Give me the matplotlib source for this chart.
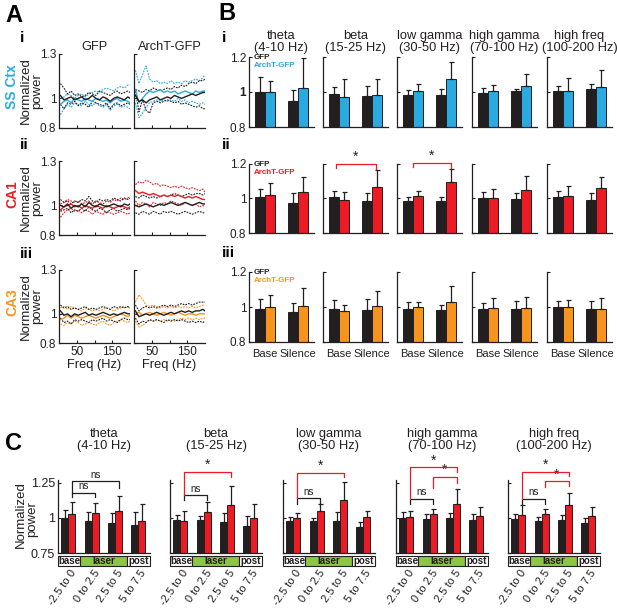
import matplotlib
matplotlib.use('Agg')
import matplotlib.pyplot as plt
import matplotlib.transforms as mtransforms
from matplotlib.patches import Rectangle
import numpy as np

plt.rcParams['font.family'] = ['Liberation Sans', 'DejaVu Sans']

# ---------------- DATA ----------------
# Panel A: normalized power spectra (mean = solid, +/- SEM = dotted)
freq = [4, 14, 24, 34, 44, 54, 64, 74, 84, 94, 104, 114, 124, 134, 144, 154, 164, 174, 184, 194, 200]

# SS Ctx, GFP
A_ss_gfp_k_mid = [1.02, 0.99, 1.00, 1.01, 0.99, 1.00, 1.01, 0.99, 1.00, 1.02, 1.00, 0.99, 1.01, 1.00, 0.98, 1.00, 1.01, 1.00, 0.99, 1.01, 1.00]
A_ss_gfp_k_hi = [1.10, 1.07, 1.03, 1.05, 1.02, 1.03, 1.01, 1.02, 1.04, 1.03, 1.02, 1.05, 1.04, 1.03, 1.02, 1.04, 1.05, 1.03, 1.04, 1.05, 1.04]
A_ss_gfp_k_lo = [0.96, 0.93, 0.97, 0.96, 0.98, 0.95, 0.97, 0.96, 0.94, 0.98, 0.97, 0.96, 0.95, 0.97, 0.93, 0.96, 0.97, 0.95, 0.96, 0.97, 0.96]
A_ss_gfp_c_mid = [0.96, 0.98, 0.99, 0.97, 1.00, 0.99, 0.98, 1.00, 0.99, 0.98, 1.00, 0.99, 0.98, 0.99, 0.97, 0.99, 1.00, 0.98, 0.99, 0.98, 0.97]
A_ss_gfp_c_hi = [1.00, 1.01, 1.03, 1.02, 1.00, 1.02, 1.03, 1.01, 1.03, 1.04, 1.05, 1.04, 1.06, 1.07, 1.06, 1.05, 1.07, 1.08, 1.07, 1.09, 1.09]
A_ss_gfp_c_lo = [0.89, 0.93, 0.96, 0.94, 0.97, 0.96, 0.95, 0.98, 0.96, 0.95, 0.97, 0.95, 0.94, 0.96, 0.92, 0.95, 0.96, 0.94, 0.95, 0.94, 0.93]
# SS Ctx, ArchT-GFP
A_ss_arch_k_mid = [1.02, 0.98, 0.99, 0.97, 0.99, 1.00, 1.01, 0.99, 1.00, 1.01, 1.00, 1.02, 1.01, 1.00, 1.01, 1.02, 1.03, 1.02, 1.03, 1.04, 1.04]
A_ss_arch_k_hi = [1.06, 1.05, 1.04, 1.06, 1.05, 1.07, 1.06, 1.05, 1.06, 1.07, 1.06, 1.08, 1.07, 1.09, 1.08, 1.10, 1.11, 1.10, 1.12, 1.12, 1.13]
A_ss_arch_k_lo = [1.05, 0.91, 0.99, 0.92, 0.90, 0.97, 0.98, 0.97, 0.98, 0.99, 0.98, 0.97, 0.98, 0.96, 0.97, 0.96, 0.95, 0.94, 0.95, 0.93, 0.93]
A_ss_arch_c_mid = [1.06, 0.97, 1.00, 1.03, 1.05, 1.04, 1.05, 1.06, 1.04, 1.05, 1.04, 1.05, 1.03, 1.04, 1.05, 1.04, 1.03, 1.05, 1.04, 1.05, 1.05]
A_ss_arch_c_hi = [1.19, 1.10, 1.16, 1.22, 1.13, 1.11, 1.12, 1.10, 1.11, 1.10, 1.12, 1.10, 1.11, 1.10, 1.12, 1.11, 1.12, 1.13, 1.12, 1.14, 1.16]
A_ss_arch_c_lo = [0.97, 0.87, 0.90, 0.94, 0.97, 0.98, 0.99, 0.98, 0.99, 0.98, 0.99, 0.98, 1.00, 0.98, 0.99, 0.97, 0.98, 0.97, 0.96, 0.97, 0.96]

# CA1, GFP
A_ca1_gfp_k_mid = [1.00, 0.99, 1.01, 0.98, 1.00, 0.99, 1.01, 0.99, 1.02, 1.00, 0.99, 1.01, 1.00, 0.99, 1.00, 1.01, 1.00, 0.99, 1.01, 1.00, 1.01]
A_ca1_gfp_k_hi = [1.04, 1.02, 1.03, 1.01, 1.03, 1.02, 1.04, 1.03, 1.06, 1.03, 1.02, 1.04, 1.03, 1.04, 1.03, 1.05, 1.04, 1.03, 1.05, 1.04, 1.05]
A_ca1_gfp_k_lo = [0.96, 0.97, 0.98, 0.95, 0.97, 0.96, 0.98, 0.96, 0.99, 0.97, 0.96, 0.98, 0.97, 0.95, 0.97, 0.98, 0.96, 0.97, 0.98, 0.97, 0.98]
A_ca1_gfp_c_mid = [0.97, 0.99, 1.00, 1.01, 0.99, 1.00, 0.98, 1.00, 0.99, 0.98, 1.00, 0.99, 0.98, 1.00, 0.99, 0.98, 0.99, 1.00, 0.99, 0.98, 0.99]
A_ca1_gfp_c_hi = [1.01, 1.02, 1.04, 1.03, 1.02, 1.03, 1.01, 1.02, 1.03, 1.01, 1.03, 1.02, 1.01, 1.03, 1.02, 1.04, 1.03, 1.05, 1.04, 1.05, 1.06]
A_ca1_gfp_c_lo = [0.92, 0.95, 0.97, 0.98, 0.96, 0.97, 0.95, 0.97, 0.96, 0.94, 0.96, 0.95, 0.94, 0.96, 0.95, 0.94, 0.95, 0.96, 0.95, 0.94, 0.95]
# CA1, ArchT-GFP
A_ca1_arch_k_mid = [1.00, 0.99, 1.00, 1.01, 1.00, 0.99, 1.00, 1.01, 1.00, 1.01, 1.02, 1.01, 1.00, 1.01, 1.02, 1.01, 1.00, 1.01, 1.02, 1.01, 1.01]
A_ca1_arch_k_hi = [1.06, 1.05, 1.07, 1.06, 1.05, 1.06, 1.05, 1.06, 1.07, 1.06, 1.07, 1.08, 1.07, 1.06, 1.07, 1.08, 1.07, 1.08, 1.08, 1.07, 1.08]
A_ca1_arch_k_lo = [0.95, 0.94, 0.96, 0.95, 0.94, 0.96, 0.95, 0.94, 0.96, 0.95, 0.96, 0.95, 0.94, 0.95, 0.96, 0.95, 0.94, 0.95, 0.96, 0.95, 0.95]
A_ca1_arch_c_mid = [1.10, 1.08, 1.09, 1.08, 1.07, 1.08, 1.07, 1.06, 1.07, 1.06, 1.07, 1.06, 1.07, 1.06, 1.05, 1.06, 1.05, 1.06, 1.05, 1.04, 1.04]
A_ca1_arch_c_hi = [1.14, 1.16, 1.15, 1.17, 1.16, 1.14, 1.15, 1.13, 1.14, 1.13, 1.12, 1.13, 1.12, 1.13, 1.12, 1.11, 1.12, 1.11, 1.10, 1.11, 1.09]
A_ca1_arch_c_lo = [1.03, 1.00, 1.02, 1.01, 0.99, 1.02, 1.01, 1.00, 1.02, 1.01, 1.03, 1.02, 1.01, 1.00, 1.02, 1.01, 1.00, 1.01, 0.99, 1.00, 0.99]

# CA3, GFP
A_ca3_gfp_k_mid = [1.02, 0.99, 1.00, 0.98, 1.00, 0.99, 1.00, 1.01, 0.99, 1.00, 0.99, 1.00, 1.01, 1.00, 0.99, 1.00, 0.99, 1.00, 1.01, 1.00, 1.00]
A_ca3_gfp_k_hi = [1.06, 1.04, 1.05, 1.03, 1.04, 1.03, 1.04, 1.05, 1.03, 1.04, 1.03, 1.04, 1.05, 1.04, 1.03, 1.05, 1.04, 1.05, 1.04, 1.05, 1.04]
A_ca3_gfp_k_lo = [0.97, 0.94, 0.95, 0.93, 0.96, 0.95, 0.96, 0.95, 0.94, 0.96, 0.95, 0.96, 0.97, 0.95, 0.96, 0.95, 0.94, 0.96, 0.97, 0.96, 0.96]
A_ca3_gfp_c_mid = [0.96, 0.97, 0.99, 0.97, 0.99, 0.98, 0.97, 0.98, 0.99, 0.98, 0.97, 0.98, 0.99, 0.98, 0.97, 0.98, 0.99, 1.00, 0.99, 0.98, 0.99]
A_ca3_gfp_c_hi = [1.04, 1.05, 1.03, 1.05, 1.04, 1.03, 1.02, 1.04, 1.03, 1.02, 1.03, 1.02, 1.03, 1.04, 1.03, 1.02, 1.03, 1.04, 1.05, 1.04, 1.05]
A_ca3_gfp_c_lo = [0.93, 0.92, 0.94, 0.93, 0.95, 0.94, 0.92, 0.93, 0.94, 0.93, 0.92, 0.94, 0.95, 0.93, 0.92, 0.94, 0.95, 0.96, 0.95, 0.94, 0.95]
# CA3, ArchT-GFP
A_ca3_arch_k_mid = [1.02, 0.98, 0.99, 1.00, 0.99, 1.00, 1.01, 1.00, 0.99, 1.00, 1.01, 1.00, 1.01, 1.02, 1.01, 1.02, 1.01, 1.02, 1.02, 1.03, 1.02]
A_ca3_arch_k_hi = [1.06, 1.02, 1.04, 1.05, 1.04, 1.05, 1.04, 1.05, 1.06, 1.05, 1.06, 1.05, 1.06, 1.07, 1.06, 1.07, 1.06, 1.07, 1.08, 1.08, 1.08]
A_ca3_arch_k_lo = [0.97, 0.93, 0.95, 0.94, 0.96, 0.95, 0.96, 0.95, 0.94, 0.96, 0.95, 0.96, 0.95, 0.96, 0.95, 0.94, 0.95, 0.94, 0.95, 0.94, 0.95]
A_ca3_arch_c_mid = [1.00, 1.01, 0.99, 1.00, 1.01, 1.00, 0.99, 1.00, 1.01, 1.00, 0.99, 1.00, 1.01, 1.00, 0.99, 1.00, 1.00, 0.99, 1.00, 1.00, 1.00]
A_ca3_arch_c_hi = [1.08, 1.13, 1.10, 1.06, 1.05, 1.06, 1.05, 1.04, 1.05, 1.04, 1.05, 1.04, 1.05, 1.04, 1.05, 1.04, 1.05, 1.04, 1.05, 1.06, 1.06]
A_ca3_arch_c_lo = [0.95, 0.91, 0.92, 0.94, 0.96, 0.95, 0.96, 0.95, 0.96, 0.95, 0.96, 0.95, 0.96, 0.97, 0.96, 0.97, 0.96, 0.97, 0.96, 0.97, 0.97]

# Panel B: band power, Base vs Silence (bar value, errorbar top)
bands_B = ['theta\n(4-10 Hz)', 'beta\n(15-25 Hz)', 'low gamma\n(30-50 Hz)', 'high gamma\n(70-100 Hz)', 'high freq\n(100-200 Hz)']
B_cond_labels = ['Base', 'Silence']

B_ss_gfp_base = [1.000, 0.987, 0.981, 0.994, 1.008]
B_ss_gfp_base_top = [1.085, 1.030, 1.010, 1.020, 1.036]
B_ss_arch_base = [1.000, 0.970, 1.008, 1.004, 1.008]
B_ss_arch_base_top = [1.060, 1.072, 1.047, 1.040, 1.080]
B_ss_gfp_sil = [0.947, 0.979, 0.983, 1.004, 1.017]
B_ss_gfp_sil_top = [1.010, 1.034, 1.017, 1.015, 1.047]
B_ss_arch_sil = [1.023, 0.981, 1.074, 1.032, 1.028]
B_ss_arch_sil_top = [1.196, 1.074, 1.174, 1.104, 1.126]

B_ca1_gfp_base = [1.006, 1.010, 0.984, 1.004, 1.010]
B_ca1_gfp_base_top = [1.053, 1.041, 1.006, 1.035, 1.043]
B_ca1_arch_base = [1.018, 0.990, 1.014, 1.002, 1.014]
B_ca1_arch_base_top = [1.088, 1.039, 1.041, 1.055, 1.075]
B_ca1_gfp_sil = [0.975, 0.988, 0.986, 0.996, 0.992]
B_ca1_gfp_sil_top = [1.033, 1.031, 1.010, 1.031, 1.031]
B_ca1_arch_sil = [1.039, 1.067, 1.098, 1.049, 1.061]
B_ca1_arch_sil_top = [1.127, 1.163, 1.173, 1.129, 1.122]

B_ca3_gfp_base = [0.990, 0.988, 0.990, 0.990, 1.000]
B_ca3_gfp_base_top = [1.048, 1.040, 1.030, 1.022, 1.032]
B_ca3_arch_base = [1.000, 0.978, 1.002, 0.994, 1.000]
B_ca3_arch_base_top = [1.070, 1.014, 1.030, 1.050, 1.040]
B_ca3_gfp_sil = [0.970, 0.982, 0.984, 0.988, 0.990]
B_ca3_gfp_sil_top = [1.024, 1.044, 1.012, 1.034, 1.032]
B_ca3_arch_sil = [1.006, 1.008, 1.030, 0.994, 0.990]
B_ca3_arch_sil_top = [1.106, 1.094, 1.118, 1.060, 1.052]

# Panel C: CA1 band power over time epochs (GFP black, ArchT red)
epochs = ['-2.5 to 0', '0 to 2.5', '2.5 to 5', '5 to 7.5']
C_gfp = [[0.998, 0.980, 0.963, 0.949],
         [0.985, 0.985, 0.973, 0.944],
         [0.978, 0.980, 0.976, 0.935],
         [1.000, 0.993, 0.998, 0.988],
         [0.995, 0.978, 0.983, 0.966]]
C_gfp_top = [[1.054, 1.040, 1.032, 1.040],
             [1.020, 1.012, 1.037, 1.012],
             [1.010, 1.002, 1.043, 0.971],
             [1.039, 1.027, 1.036, 1.027],
             [1.031, 1.007, 1.022, 0.998]]
C_arch = [[1.027, 1.034, 1.046, 0.980],
          [0.980, 1.041, 1.090, 1.000],
          [0.998, 1.050, 1.128, 1.007],
          [1.007, 1.031, 1.099, 1.014],
          [1.024, 1.029, 1.094, 1.012]]
C_arch_top = [[1.110, 1.107, 1.156, 1.102],
              [1.046, 1.110, 1.224, 1.102],
              [1.034, 1.100, 1.256, 1.050],
              [1.050, 1.063, 1.205, 1.080],
              [1.089, 1.065, 1.179, 1.075]]
# significance brackets: (group a, group b, label)
C_sig = [[(1, 2, 'ns'), (1, 3, 'ns')],
         [(1, 2, 'ns'), (1, 3, '*')],
         [(1, 2, 'ns'), (1, 3, '*')],
         [(1, 2, 'ns'), (1, 3, '*'), (2, 3, '*')],
         [(1, 2, 'ns'), (1, 3, '*'), (2, 3, '*')]]

# ---------------- STYLE / LAYOUT ----------------
K = '#231f20'
CYAN = '#29abe2'
RED = '#ed1c24'
ORANGE = '#f7941d'
GREEN = '#8dc63f'

W, H = 617, 609
fig = plt.figure(figsize=(W / 100, H / 100), dpi=100)


def add_ax(l, t, r, b):
    return fig.add_axes([l / W, 1 - b / H, (r - l) / W, (b - t) / H])


def ftext(x, y, s, **kw):
    fig.text(x / W, 1 - y / H, s, **kw)


def style_ax(ax):
    for s in ['top', 'right']:
        ax.spines[s].set_visible(False)
    for s in ['left', 'bottom']:
        ax.spines[s].set_linewidth(0.9)
        ax.spines[s].set_color(K)
    ax.tick_params(direction='in', length=2.5, width=0.8, labelsize=8, pad=2, colors=K)


# ---------------- PANEL A ----------------
ftext(5, 15, 'A', fontsize=17, fontweight='bold', va='center')
A_rows = [
    ('i', 'SS Ctx', CYAN, 54, 128,
     [A_ss_gfp_k_mid, A_ss_gfp_k_hi, A_ss_gfp_k_lo, A_ss_gfp_c_mid, A_ss_gfp_c_hi, A_ss_gfp_c_lo],
     [A_ss_arch_k_mid, A_ss_arch_k_hi, A_ss_arch_k_lo, A_ss_arch_c_mid, A_ss_arch_c_hi, A_ss_arch_c_lo]),
    ('ii', 'CA1', RED, 161, 235,
     [A_ca1_gfp_k_mid, A_ca1_gfp_k_hi, A_ca1_gfp_k_lo, A_ca1_gfp_c_mid, A_ca1_gfp_c_hi, A_ca1_gfp_c_lo],
     [A_ca1_arch_k_mid, A_ca1_arch_k_hi, A_ca1_arch_k_lo, A_ca1_arch_c_mid, A_ca1_arch_c_hi, A_ca1_arch_c_lo]),
    ('iii', 'CA3', ORANGE, 270, 343,
     [A_ca3_gfp_k_mid, A_ca3_gfp_k_hi, A_ca3_gfp_k_lo, A_ca3_gfp_c_mid, A_ca3_gfp_c_hi, A_ca3_gfp_c_lo],
     [A_ca3_arch_k_mid, A_ca3_arch_k_hi, A_ca3_arch_k_lo, A_ca3_arch_c_mid, A_ca3_arch_c_hi, A_ca3_arch_c_lo]),
]
dot = (0, (1.6, 1.0))
for r, (rn, region, col, top, bot, gfp_lines, arch_lines) in enumerate(A_rows):
    ftext(20, top - 16, rn, fontsize=11, fontweight='bold', va='center')
    yc = (top + bot) / 2
    ftext(12, yc - 4, region, fontsize=10, fontweight='bold', color=col, rotation=90, ha='center', va='center')
    ftext(26, yc, 'Normalized', fontsize=9.5, rotation=90, ha='center', va='center', color=K)
    ftext(37, yc, 'power', fontsize=9.5, rotation=90, ha='center', va='center', color=K)
    for c, (lines, l, rr) in enumerate([(gfp_lines, 59, 130), (arch_lines, 134, 205)]):
        ax = add_ax(l, top, rr, bot)
        k_mid, k_hi, k_lo, c_mid, c_hi, c_lo = lines
        ax.plot(freq, c_hi, color=col, ls=dot, lw=0.8)
        ax.plot(freq, c_lo, color=col, ls=dot, lw=0.8)
        ax.plot(freq, k_hi, color=K, ls=dot, lw=0.8)
        ax.plot(freq, k_lo, color=K, ls=dot, lw=0.8)
        ax.plot(freq, c_mid, color=col, lw=1.0)
        ax.plot(freq, k_mid, color=K, lw=1.0)
        ax.set_xlim(0, 200)
        ax.set_ylim(0.8, 1.3)
        style_ax(ax)
        ax.set_xticks([50, 100, 150])
        ax.set_xticklabels(['50', '', '150'] if r == 2 else ['', '', ''], fontsize=8.5)
        ax.set_yticks([0.8, 1.0, 1.3])
        ax.set_yticklabels(['0.8', '1', '1.3'] if c == 0 else ['', '', ''], fontsize=8.5)
        if r == 0:
            ax.set_title(['GFP', 'ArchT-GFP'][c], fontsize=9.2, pad=3, color=K)
        if r == 2:
            ax.set_xlabel('Freq (Hz)', fontsize=9.3, labelpad=1, color=K)

# ---------------- PANEL B ----------------
ftext(218, 14, 'B', fontsize=17, fontweight='bold', va='center')
B_rows = [
    ('i', CYAN, 57, 127, B_ss_gfp_base, B_ss_gfp_base_top, B_ss_arch_base, B_ss_arch_base_top,
     B_ss_gfp_sil, B_ss_gfp_sil_top, B_ss_arch_sil, B_ss_arch_sil_top),
    ('ii', RED, 164, 233, B_ca1_gfp_base, B_ca1_gfp_base_top, B_ca1_arch_base, B_ca1_arch_base_top,
     B_ca1_gfp_sil, B_ca1_gfp_sil_top, B_ca1_arch_sil, B_ca1_arch_sil_top),
    ('iii', ORANGE, 272, 342, B_ca3_gfp_base, B_ca3_gfp_base_top, B_ca3_arch_base, B_ca3_arch_base_top,
     B_ca3_gfp_sil, B_ca3_gfp_sil_top, B_ca3_arch_sil, B_ca3_arch_sil_top),
]
B_left = [249, 323, 397, 472, 547]
B_w = 65
bw = 0.31
B_sig_brackets = {(1, 1): (0.9, 2.13, 1.2, 1.175, 1.17), (1, 2): (1.0, 2.15, 1.205, 1.18, 1.175)}
for r, (rn, col, top, bot, gb, gbt, ab, abt, gs, gst, as_, ast) in enumerate(B_rows):
    ftext(222, top - 19, rn, fontsize=11, fontweight='bold', va='center')
    for b in range(5):
        ax = add_ax(B_left[b], top, B_left[b] + B_w, bot)
        xs = [1 - bw / 2, 1 + bw / 2, 2 - bw / 2, 2 + bw / 2]
        vals = np.array([gb[b], ab[b], gs[b], as_[b]])
        tops = np.array([gbt[b], abt[b], gst[b], ast[b]])
        ax.bar(xs, vals - 0.8, bottom=0.8, width=bw, color=[K, col, K, col], edgecolor=K, linewidth=0.7, zorder=2)
        ax.errorbar(xs, vals, yerr=[np.zeros(4), tops - vals], fmt='none', ecolor=K,
                    elinewidth=0.9, capsize=1.8, capthick=0.9, zorder=3)
        ax.set_xlim(0.5, 2.5)
        ax.set_ylim(0.8, 1.2)
        style_ax(ax)
        ax.set_yticks([0.8, 1.0, 1.2])
        ax.set_yticklabels(['0.8', '1', '1.2'] if b == 0 else ['', '', ''], fontsize=8.5)
        if b == 0 and r == 0:
            ax.get_yticklabels()[1].set_fontweight('bold')
        ax.set_xticks([1, 2])
        ax.tick_params(axis='x', length=0, pad=5)
        ax.set_xticklabels(B_cond_labels if r == 2 else ['', ''], fontsize=8)
        if r == 0:
            ax.set_title(bands_B[b], fontsize=9.3, pad=4, linespacing=1.05, color=K)
        if b == 0:
            ax.text(0.65, 1.197, 'GFP', fontsize=5.8, fontweight='bold', color=K, va='center')
            ax.text(0.65, 1.152, 'ArchT-GFP', fontsize=5.8, fontweight='bold', color=col, va='center')
        if (r, b) in B_sig_brackets:
            x0, x1, y, yl, yr = B_sig_brackets[(r, b)]
            ax.plot([x0, x0, x1, x1], [yl, y, y, yr], color=RED, lw=0.9, clip_on=False, zorder=4)
            ax.text((x0 + x1) / 2, y + 0.002, '*', ha='center', va='bottom', fontsize=10, color=K)

# ---------------- PANEL C ----------------
ftext(5, 443, 'C', fontsize=17, fontweight='bold', va='center')
C_left = [58, 170, 283, 396, 508]
C_w = 92
C_top, C_bot = 480, 553
cw = 0.3
# bracket geometry (layout): y level, left-leg end, right-leg end per bracket
C_br_geom = [[(1.18, 1.15, 1.15), (1.26, 1.18, 1.21)],
             [(1.16, 1.13, 1.13), (1.33, 1.16, 1.29)],
             [(1.14, 1.10, 1.10), (1.32, 1.14, 1.29)],
             [(1.135, 1.10, 1.10), (1.36, 1.135, 1.33), (1.29, 1.215, 1.25)],
             [(1.135, 1.10, 1.10), (1.33, 1.135, 1.30), (1.26, 1.22, 1.23)]]
titles_C = bands_B
for b in range(5):
    ax = add_ax(C_left[b], C_top, C_left[b] + C_w, C_bot)
    g = np.arange(1, 5)
    gv = np.array(C_gfp[b]); gt = np.array(C_gfp_top[b])
    av = np.array(C_arch[b]); at = np.array(C_arch_top[b])
    ax.bar(g - cw / 2, gv - 0.75, bottom=0.75, width=cw, color=K, edgecolor=K, linewidth=0.7, zorder=2)
    ax.bar(g + cw / 2, av - 0.75, bottom=0.75, width=cw, color=RED, edgecolor=K, linewidth=0.7, zorder=2)
    ax.errorbar(g - cw / 2, gv, yerr=[np.zeros(4), gt - gv], fmt='none', ecolor=K,
                elinewidth=0.9, capsize=1.8, capthick=0.9, zorder=3)
    ax.errorbar(g + cw / 2, av, yerr=[np.zeros(4), at - av], fmt='none', ecolor=K,
                elinewidth=0.9, capsize=1.8, capthick=0.9, zorder=3)
    ax.set_xlim(0.55, 4.5)
    ax.set_ylim(0.75, 1.27)
    style_ax(ax)
    ax.set_yticks([0.75, 1.0, 1.25])
    ax.set_yticklabels(['0.75', '1', '1.25'] if b == 0 else ['', '', ''], fontsize=9)
    ax.set_xticks([])
    if b == 0:
        ftext(21, (C_top + C_bot) / 2 - 2, 'Normalized', fontsize=9.5, rotation=90,
              ha='center', va='center', color=K)
        ftext(32, (C_top + C_bot) / 2 + 3, 'power', fontsize=9.5, rotation=90,
              ha='center', va='center', color=K)
    ftext(C_left[b] + C_w / 2, 440, titles_C[b], fontsize=9.3, ha='center', va='center',
          linespacing=1.05, color=K)
    trans = mtransforms.blended_transform_factory(ax.transData, ax.transAxes)
    for (x0, x1, lab, fc) in [(0.55, 1.5, 'base', 'white'), (1.5, 3.5, 'laser', GREEN), (3.5, 4.5, 'post', 'white')]:
        ax.add_patch(Rectangle((x0, -0.18), x1 - x0, 0.135, transform=trans, facecolor=fc,
                               edgecolor=K, linewidth=0.8, clip_on=False))
        ax.text((x0 + x1) / 2, -0.115, lab, transform=trans, ha='center', va='center',
                fontsize=7, fontweight='bold', color=K)
    for gi, lab in enumerate(epochs):
        ax.text(gi + 1 + 0.25, -0.25, lab, transform=trans, ha='right', va='center',
                rotation=55, rotation_mode='anchor', fontsize=8, color=K)
    for (ga, gb_, lab), (y, yl, yr) in zip(C_sig[b], C_br_geom[b]):
        colr = K if lab == 'ns' else RED
        xa, xb = ga + cw / 2, gb_ + cw / 2
        ax.plot([xa, xa, xb, xb], [yl, y, y, yr], color=colr, lw=0.9, clip_on=False, zorder=4)
        if lab == 'ns':
            ax.text((xa + xb) / 2, y + 0.012, 'ns', ha='center', va='bottom', fontsize=7, color=K)
        else:
            ax.text((xa + xb) / 2, y + 0.0, '*', ha='center', va='bottom', fontsize=10, color=K)

fig.savefig('out.png', dpi=100)
